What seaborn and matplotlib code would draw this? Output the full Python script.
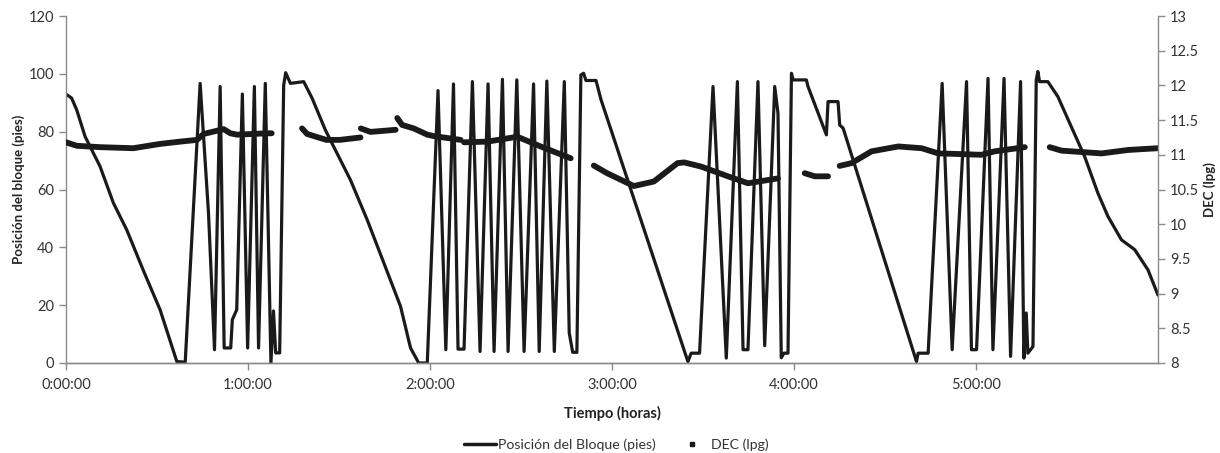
import numpy as np
import pandas as pd
import matplotlib
matplotlib.use('Agg')
import matplotlib.pyplot as plt
from matplotlib.lines import Line2D
from matplotlib.ticker import FuncFormatter
import seaborn as sns

# Posicion del bloque (pies) vs tiempo (horas)
t_block = [0.0, 0.031, 0.059, 0.105, 0.187, 0.26, 0.334, 0.425, 0.517, 0.609,
           0.655, 0.737, 0.783, 0.816, 0.847, 0.869, 0.905, 0.914, 0.938, 0.969,
           0.998, 1.035, 1.058, 1.095, 1.126, 1.14, 1.152, 1.174, 1.196, 1.207,
           1.233, 1.306, 1.352, 1.425, 1.471, 1.563, 1.655, 1.747, 1.838, 1.893,
           1.938, 1.985, 2.044, 2.087, 2.129, 2.154, 2.187, 2.233, 2.275, 2.319,
           2.352, 2.398, 2.429, 2.477, 2.517, 2.569, 2.6, 2.642, 2.683, 2.738,
           2.765, 2.784, 2.807, 2.829, 2.844, 2.857, 2.912, 2.94, 3.417, 3.435,
           3.481, 3.555, 3.628, 3.689, 3.72, 3.747, 3.802, 3.839, 3.894, 3.912,
           3.93, 3.945, 3.967, 3.986, 3.995, 4.068, 4.077, 4.178, 4.187, 4.242,
           4.251, 4.27, 4.673, 4.682, 4.737, 4.814, 4.869, 4.948, 4.975, 5.003,
           5.066, 5.093, 5.154, 5.19, 5.245, 5.263, 5.276, 5.285, 5.313, 5.331,
           5.34, 5.349, 5.395, 5.45, 5.523, 5.597, 5.67, 5.725, 5.799, 5.872,
           5.945, 6.0]
v_block = [93, 91.6, 87.5, 78.3, 68, 55.4, 46, 32, 18.4, 0.5,
           0.3, 96.7, 51.8, 4.6, 95.6, 5.2, 5.2, 15, 18.4, 93,
           5.2, 95.6, 5.2, 96.7, 0, 18, 3.5, 3.5, 96, 100.4,
           96.7, 97.3, 91.6, 80.6, 74.8, 63.3, 49.5, 34.5, 19.6, 5.2,
           0, 0, 94.2, 4.6, 96.5, 4.8, 4.8, 97.3, 4, 96.5,
           4, 98.1, 4, 97.9, 4, 96.5, 4, 97.5, 4, 97.3,
           10.4, 3.7, 3.7, 99.6, 100.2, 97.7, 97.7, 91, 0.5, 3.4,
           3.4, 95.6, 1.7, 97.3, 4.6, 4.6, 97.3, 6, 95.6, 86.4,
           1.8, 3.4, 3.4, 100.2, 97.9, 97.9, 95.6, 78.9, 90.4, 90.4,
           82.3, 81.2, 0.5, 3.4, 3.4, 96.7, 4.6, 97.3, 4.6, 4.6,
           98.4, 4.6, 98.4, 2.3, 97.3, 1.7, 17.3, 3.4, 5.7, 97.9,
           100.8, 97.3, 97.3, 92.1, 81.8, 71.4, 58.7, 50.7, 42.6, 39.2,
           32.2, 23.5]

# DEC (lpg): tramos separados por huecos en el registro
t_dec = [0.0, 0.059, 0.187, 0.37, 0.517, 0.627, 0.72, 0.756, 0.866, 0.903, 0.94, 1.105, 1.13,
         1.297, 1.325, 1.43, 1.505, 1.618,
         1.62, 1.673, 1.811,
         1.82, 1.847, 1.911, 1.985, 2.02, 2.168,
         2.187, 2.315, 2.48, 2.608, 2.773,
         2.9, 2.973, 3.12, 3.23, 3.36, 3.397, 3.49, 3.637, 3.747, 3.912,
         4.059, 4.114, 4.187,
         4.251, 4.316, 4.426, 4.573, 4.701, 4.793, 4.884, 5.03, 5.103, 5.268,
         5.405, 5.47, 5.69, 5.837, 6.0]
v_dec = [11.18, 11.13, 11.11, 11.095, 11.157, 11.19, 11.215, 11.30, 11.37, 11.31, 11.29, 11.31, 11.31,
         11.38, 11.30, 11.215, 11.215, 11.25,
         11.38, 11.33, 11.36,
         11.53, 11.43, 11.38, 11.29, 11.27, 11.215,
         11.18, 11.19, 11.26, 11.12, 10.95,
         10.845, 10.735, 10.55, 10.615, 10.88, 10.89, 10.83, 10.69, 10.59, 10.66,
         10.735, 10.69, 10.69,
         10.84, 10.88, 11.05, 11.12, 11.095, 11.02, 11.013, 11.0, 11.05, 11.11,
         11.11, 11.06, 11.02, 11.07, 11.095]
seg_dec = [0] * 13 + [1] * 5 + [2] * 3 + [3] * 6 + [4] * 5 + [5] * 10 + [6] * 3 + [7] * 10 + [8] * 5

block = pd.DataFrame({'t': t_block, 'pos': v_block})
dec = pd.DataFrame({'t': t_dec, 'dec': v_dec, 'seg': seg_dec})

sns.set_style('white')
plt.rcParams['font.family'] = ['Lato', 'DejaVu Sans']
ink = '#1a1a1a'
grey = '#8a8a8a'

fig, ax = plt.subplots(figsize=(12.2, 4.53), dpi=100)
fig.subplots_adjust(left=66 / 1220, right=1158 / 1220, top=1 - 16 / 453, bottom=1 - 363 / 453)
ax2 = ax.twinx()

sns.lineplot(data=block, x='t', y='pos', ax=ax, color=ink, lw=2.3,
             estimator=None, sort=False)
sns.lineplot(data=dec, x='t', y='dec', units='seg', ax=ax2, color=ink, lw=4.2,
             estimator=None, sort=False)

ax.set_xlim(0, 6.0)
ax.set_ylim(0, 120)
ax.set_yticks(range(0, 121, 20))
ax.set_xticks(range(0, 6))
ax.xaxis.set_major_formatter(FuncFormatter(lambda h, _: f'{int(h)}:00:00'))
ax2.set_ylim(8, 13)
ax2.set_yticks(np.arange(8, 13.01, 0.5))
ax2.yaxis.set_major_formatter(FuncFormatter(lambda v, _: f'{v:g}'))

for a in (ax, ax2):
    for s in a.spines.values():
        s.set_color(grey)
        s.set_linewidth(1.0)
    a.spines['top'].set_visible(False)
    a.tick_params(colors=grey, labelcolor='#333333', labelsize=10.5, length=5, width=1, direction='out')
ax.spines['right'].set_visible(False)
ax2.spines['left'].set_visible(False)
ax.tick_params(axis='y', left=True)
ax.tick_params(axis='x', bottom=True, pad=6)
ax2.tick_params(axis='y', right=True)

ax.set_xlabel('Tiempo (horas)', fontsize=10.5, fontweight='bold', color='#222222', labelpad=10)
ax.set_ylabel('Posición del bloque (pies)', fontsize=9.5, fontweight='bold', color='#222222', labelpad=3)
ax2.set_ylabel('DEC (lpg)', fontsize=9.5, fontweight='bold', color='#222222', labelpad=3)

handles = [Line2D([], [], color=ink, lw=2.5),
           Line2D([], [], color=ink, lw=0, marker='s', markersize=3)]
fig.legend(handles, ['Posición del Bloque (pies)', 'DEC (lpg)'], loc='center',
           bbox_to_anchor=(0.505, 0.018), ncol=2, frameon=False, fontsize=10.2,
           handlelength=2.3, handletextpad=0.15, columnspacing=1.4, labelcolor='#333333')

fig.savefig('out.png', dpi=100)
